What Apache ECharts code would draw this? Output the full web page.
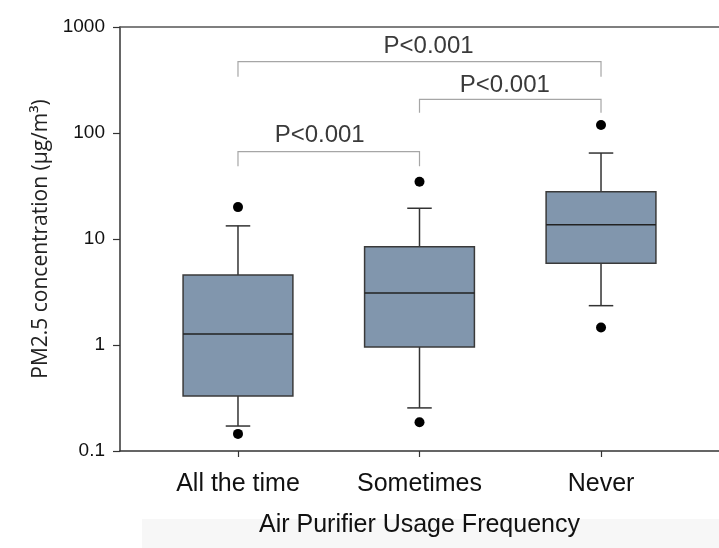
<!DOCTYPE html>
<html>
<head>
<meta charset="utf-8">
<script src="https://cdn.jsdelivr.net/npm/echarts@6/dist/echarts.min.js"></script>
<style>
html,body{margin:0;padding:0;background:#fff;}
#chart{width:719px;height:548px;}
</style>
</head>
<body>
<div id="chart"></div>
<script>
// ---- data ----
const categories = ['All the time', 'Sometimes', 'Never'];
const whiskerLow  = [0.172, 0.255, 2.35];
const q1          = [0.33, 0.96, 5.9];
const median      = [1.27, 3.09, 13.6];
const q3          = [4.57, 8.45, 27.9];
const whiskerHigh = [13.3, 19.5, 64.7];
const outlierLow  = [0.145, 0.187, 1.46];
const outlierHigh = [20, 34.7, 119];
const yTicks = [0.1, 1, 10, 100, 1000];
// comparisons: [group A index, group B index], bar level, leg level, label
const bracketPairs  = [[0, 1], [1, 2], [0, 2]];
const bracketBar    = [66.7, 208, 471];
const bracketLeg    = [48.5, 155, 340];
const bracketLabels = ['P<0.001', 'P<0.001', 'P<0.001'];
const bracketLabelY = [95.7, 284, 662];
const bracketLabelX = [1.45, 2.47, 2.05];

// ---- build ----
const boxData = categories.map((c, i) => [i + 1, whiskerLow[i], q1[i], median[i], q3[i], whiskerHigh[i]]);
const outData = [];
categories.forEach((c, i) => { outData.push([i + 1, outlierLow[i]]); outData.push([i + 1, outlierHigh[i]]); });
const brData = bracketPairs.map((p, i) => [p[0] + 1, p[1] + 1, bracketBar[i], bracketLeg[i], bracketLabelX[i], bracketLabelY[i], i]);

const BOX_W = 0.605, CAP_W = 0.135;
const BOX_FILL = '#8196ad', BOX_STROKE = '#3a3a3a';

function renderBox(params, api) {
  const x = api.value(0);
  const lo = api.value(1), a = api.value(2), m = api.value(3), b = api.value(4), hi = api.value(5);
  const xl = api.coord([x - BOX_W / 2, a])[0];
  const xr = api.coord([x + BOX_W / 2, a])[0];
  const xc = api.coord([x, a])[0];
  const cl = api.coord([x - CAP_W / 2, a])[0];
  const cr = api.coord([x + CAP_W / 2, a])[0];
  const yLo = api.coord([x, lo])[1], yA = api.coord([x, a])[1], yM = api.coord([x, m])[1], yB = api.coord([x, b])[1], yHi = api.coord([x, hi])[1];
  const ls = { stroke: '#333', lineWidth: 1.5 };
  return {
    type: 'group',
    children: [
      { type: 'line', shape: { x1: xc, y1: yB, x2: xc, y2: yHi }, style: ls },
      { type: 'line', shape: { x1: xc, y1: yA, x2: xc, y2: yLo }, style: ls },
      { type: 'line', shape: { x1: cl, y1: yHi, x2: cr, y2: yHi }, style: ls },
      { type: 'line', shape: { x1: cl, y1: yLo, x2: cr, y2: yLo }, style: ls },
      { type: 'rect', shape: { x: xl, y: yB, width: xr - xl, height: yA - yB }, style: { fill: BOX_FILL, stroke: BOX_STROKE, lineWidth: 1.5 } },
      { type: 'line', shape: { x1: xl, y1: yM, x2: xr, y2: yM }, style: { stroke: '#222', lineWidth: 1.5 } }
    ]
  };
}

function renderBracket(params, api) {
  const x1 = api.value(0), x2 = api.value(1), yb = api.value(2), yl = api.value(3), lx = api.value(4), ly = api.value(5), idx = api.value(6);
  const p1 = api.coord([x1, yb]), p2 = api.coord([x2, yb]);
  const l1 = api.coord([x1, yl]), l2 = api.coord([x2, yl]);
  const t = api.coord([lx, ly]);
  return {
    type: 'group',
    children: [
      { type: 'polyline', shape: { points: [[l1[0], l1[1]], [p1[0], p1[1]], [p2[0], p2[1]], [l2[0], l2[1]]] }, style: { stroke: '#a6a6a6', lineWidth: 1.2, fill: null } },
      { type: 'text', x: t[0], y: t[1], style: { text: bracketLabels[idx], align: 'center', verticalAlign: 'middle', fill: '#3a3a3a', font: '24px "Liberation Sans", Arial, sans-serif' } }
    ]
  };
}

const chart = echarts.init(document.getElementById('chart'), null, { renderer: 'canvas' });
chart.setOption({
  animation: false,
  backgroundColor: '#ffffff',
  graphic: [{ type: 'rect', left: 142, top: 519, z: -10, shape: { width: 577, height: 29 }, style: { fill: '#f7f7f7' } }],
  grid: { left: 120, right: 0, top: 27, bottom: 97, containLabel: false },
  xAxis: [{
    type: 'value', min: 0.35, max: 3.65,
    name: 'Air Purifier Usage Frequency', nameLocation: 'middle', nameGap: 62,
    nameTextStyle: { fontFamily: 'Liberation Sans', fontSize: 25, color: '#111' },
    splitLine: { show: false },
    axisLine: { show: true, onZero: false, lineStyle: { color: '#333', width: 1.5 } },
    axisTick: { show: true, customValues: [1, 2, 3], length: 6, lineStyle: { color: '#333', width: 1.2 } },
    axisLabel: { customValues: [1, 2, 3], formatter: v => categories[Math.round(v) - 1] || '', margin: 21, fontFamily: 'Liberation Sans', fontSize: 25, color: '#111' }
  }, {
    type: 'value', min: 0.35, max: 3.65, position: 'top',
    splitLine: { show: false }, axisTick: { show: false }, axisLabel: { show: false },
    axisLine: { show: true, onZero: false, lineStyle: { color: '#555', width: 1.5 } }
  }],
  yAxis: {
    type: 'log', logBase: 10, min: 0.1, max: 1000,
    name: 'PM2.5 concentration (µg/m³)', nameLocation: 'middle', nameGap: 66, nameRotate: 90,
    nameTextStyle: { fontFamily: 'Open Sans', fontSize: 21, color: '#222' },
    splitLine: { show: false },
    axisLine: { show: true, lineStyle: { color: '#333', width: 1.5 } },
    axisTick: { show: true, length: 7, lineStyle: { color: '#333', width: 1.2 } },
    axisLabel: { margin: 15, fontFamily: 'Liberation Sans', fontSize: 19, color: '#111', formatter: v => { const m = yTicks.find(t => Math.abs(t - v) / t < 1e-6); return m !== undefined ? String(m) : ''; } }
  },
  series: [
    { type: 'custom', renderItem: renderBox, data: boxData, clip: false, encode: { x: 0, y: [1, 2, 3, 4, 5] }, z: 2 },
    { type: 'scatter', data: outData, symbol: 'circle', symbolSize: 10, itemStyle: { color: '#000', opacity: 1 }, z: 3 },
    { type: 'custom', renderItem: renderBracket, data: brData, clip: false, encode: { x: [0, 1], y: [2, 3] }, z: 3 }
  ]
});
</script>
</body>
</html>
